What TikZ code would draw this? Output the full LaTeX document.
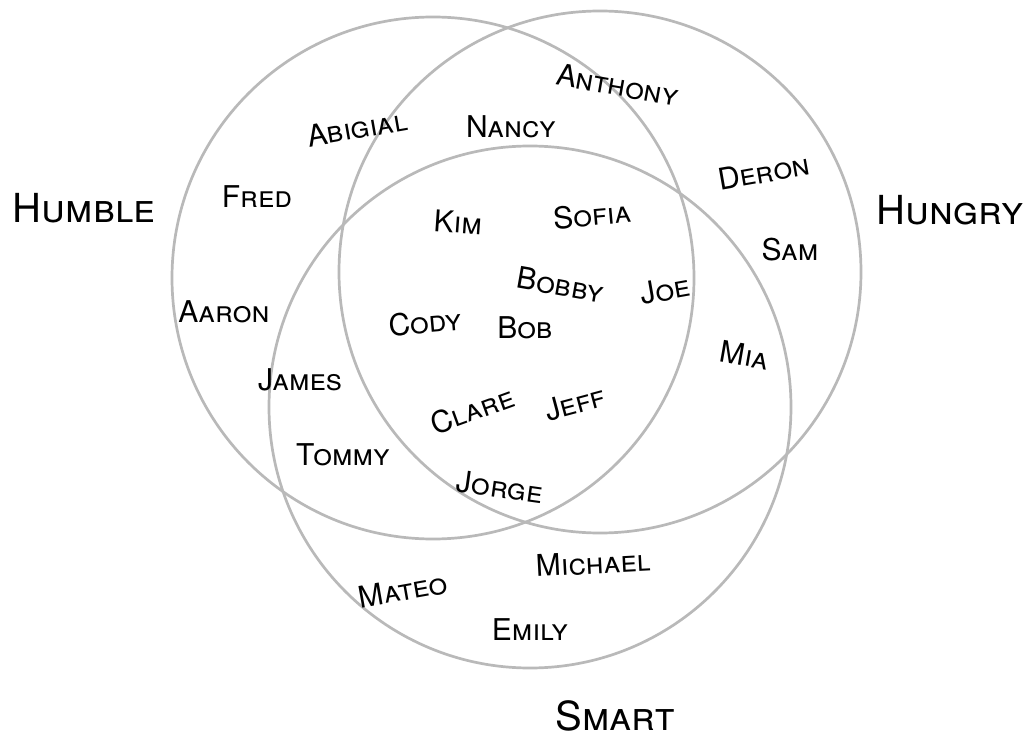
\documentclass[tikz,border=0pt]{standalone}
\usepackage{fontspec}
\setmainfont{TeX Gyre Heros}
\usepackage{tikz}

\begin{document}
\begin{tikzpicture}[
  x=1pt, y=-1pt,
  ring/.style={draw=gray!55, line width=2.7pt},
  person/.style={font=\fontsize{30}{32}\selectfont\scshape, inner sep=0pt},
  setlabel/.style={font=\fontsize{40}{44}\selectfont\scshape, inner sep=0pt},
]
  \useasboundingbox (0,0) rectangle (1029,738);

  % the three sets
  \draw[ring] (433,278) circle[radius=261];
  \draw[ring] (600,272) circle[radius=261];
  \draw[ring] (530,407) circle[radius=261];

  \node[setlabel] (humble) at (84,208)  {Humble};
  \node[setlabel] (hungry) at (950,210) {Hungry};
  \node[setlabel] (smart)  at (615,716) {Smart};

  % humble only
  \node[person, rotate=10] (abigial) at (357,128) {Abigial};
  \node[person]            (fred)    at (257,197) {Fred};
  \node[person]            (aaron)   at (224,312) {Aaron};
  % humble and hungry
  \node[person]            (nancy)   at (511,127) {Nancy};
  % hungry only
  \node[person, rotate=-10] (anthony) at (618,85)  {Anthony};
  \node[person, rotate=10]  (deron)   at (764,172) {Deron};
  \node[person]             (sam)     at (790,250) {Sam};
  % all three
  \node[person, rotate=-4]  (kim)     at (458,222) {Kim};
  \node[person, rotate=5]   (sofia)   at (592,215) {Sofia};
  \node[person, rotate=-10] (bobby)   at (561,285) {Bobby};
  \node[person, rotate=10]  (joe)     at (665,290) {Joe};
  \node[person, rotate=5]   (cody)    at (425,322) {Cody};
  \node[person]             (bob)     at (525,328) {Bob};
  \node[person, rotate=20]  (clare)   at (472,410) {Clare};
  \node[person, rotate=15]  (jeff)    at (575,403) {Jeff};
  % hungry and smart
  \node[person, rotate=-10] (mia)     at (745,355) {Mia};
  % humble and smart
  \node[person]             (james)   at (300,380) {James};
  \node[person]             (tommy)   at (343,455) {Tommy};
  \node[person, rotate=-8]  (jorge)   at (500,487) {Jorge};
  % smart only
  \node[person, rotate=10]  (mateo)   at (403,590) {Mateo};
  \node[person, rotate=3]   (michael) at (593,563) {Michael};
  \node[person]             (emily)   at (530,630) {Emily};
\end{tikzpicture}
\end{document}
